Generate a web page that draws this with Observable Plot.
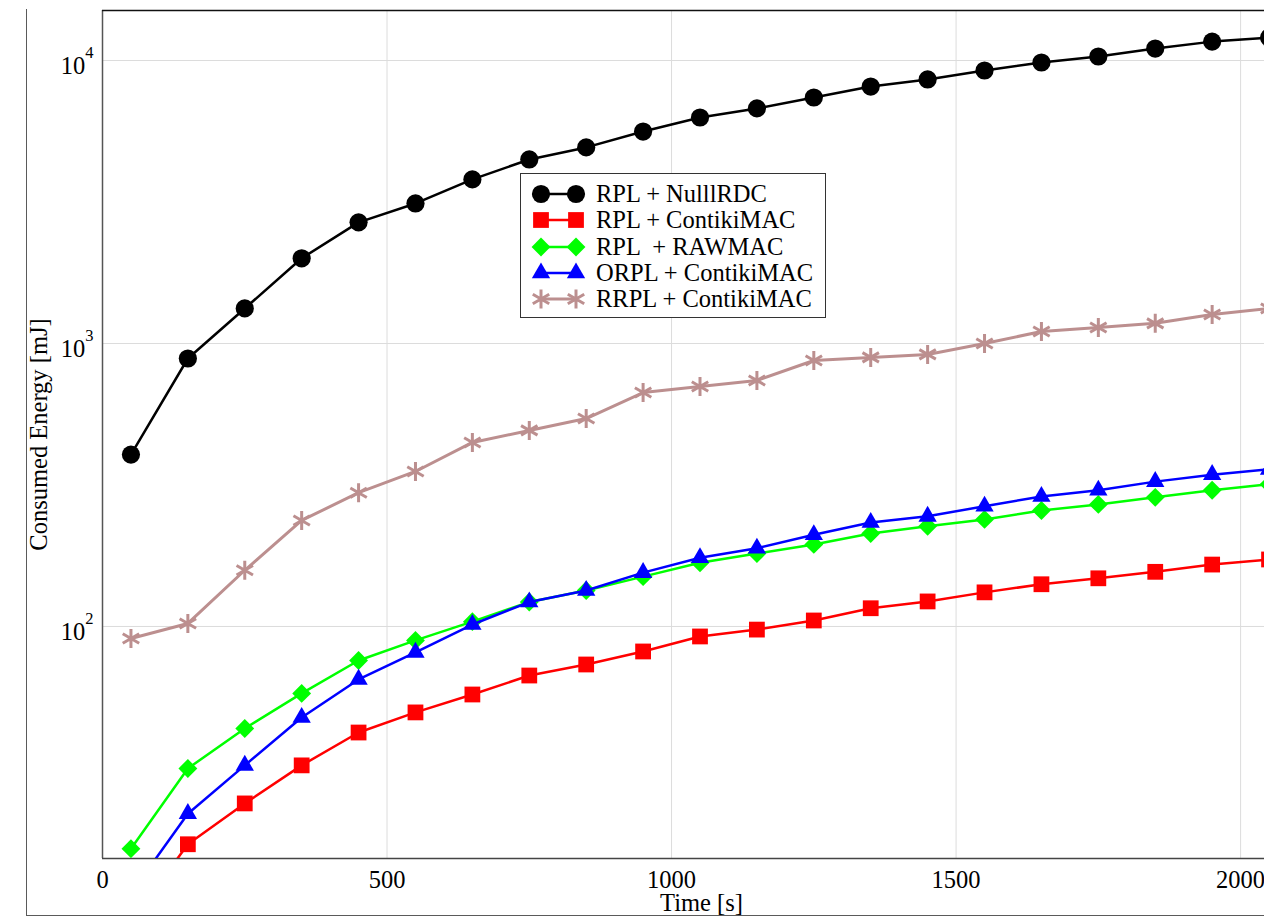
<!DOCTYPE html>
<html><head><meta charset="utf-8">
<script src="https://cdn.jsdelivr.net/npm/d3@7"></script>
<script src="https://cdn.jsdelivr.net/npm/@observablehq/plot@0.6"></script>
<style>
html,body{margin:0;padding:0;background:#fff;overflow:hidden}
#wrap{position:relative;width:1264px;height:919px}
#outer{position:absolute;left:26px;top:9px;width:1250px;height:906px;border-left:1.5px solid #5a5a5a;border-bottom:1.5px solid #5a5a5a}
#chart{position:absolute;left:0;top:0}
#legend{position:absolute;left:520px;top:173px;width:306px;height:145px;border:1.5px solid #333;background:#fff;box-sizing:border-box;font-family:"Liberation Serif",serif;font-size:24.5px;color:#000}
.row{position:absolute;left:0;height:26px;display:flex;align-items:center;white-space:pre}
.row svg{flex:none}
</style></head><body>
<div id="wrap"><div id="outer"></div><div id="chart"></div><div id="legend"></div></div>
<script>
// ---- data ----
const times = [50,150,250,350,450,550,650,750,850,950,1050,1150,1250,1350,1450,1550,1650,1750,1850,1950,2050];
const rplNullRdc   = [405,885,1330,2000,2680,3125,3800,4470,4930,5610,6290,6770,7400,8090,8570,9220,9840,10330,11020,11660,12050];
const rplContiki   = [9,17,23.7,32.3,42.2,49.7,57.5,67.1,73.4,81.6,92.2,97.5,105,116,122.6,132,141,148,156,165.5,172.5];
const rplRawMac    = [16.4,31.5,43.6,58,75.8,89.3,104,122,134,150,168,181,195,213,226,239,257,270,286,303,318];
const orplContiki  = [11.4,21.8,32.3,47.7,65,81,101.6,122,134,155,175,189,211,233,245,266,288,303,325,344,359];
const rrplContiki  = [90.7,102.5,158,237,297,353,447,493,543,671,705,740,871,893,915,1000,1102,1139,1178,1266,1330];
const seriesNames  = ["RPL + NulllRDC","RPL + ContikiMAC","RPL  + RAWMAC","ORPL + ContikiMAC","RRPL + ContikiMAC"];
const seriesValues = [rplNullRdc, rplContiki, rplRawMac, orplContiki, rrplContiki];
const xTicks = [0,500,1000,1500,2000];
const yTicks = [100,1000,10000];
const xDomain = [0,2042];
const yDomain = [15.14,15020];

// ---- styles ----
const styles = [
  {color:"#000000", symbol:"circle",   r:9.1, sw:2.5, stroke:false},
  {color:"#ff0000", symbol:"square",   r:8.9, sw:2.5, stroke:false},
  {color:"#00ff00", symbol:"diamond2", r:8.5, sw:2.5, stroke:false},
  {color:"#0000ff", symbol:"triangle", r:6.8, sw:2.5, stroke:false},
  {color:"#bc8f8f", symbol:"asterisk", r:9,   sw:3,   stroke:true}
];

const marks = [
  Plot.gridX(xTicks.filter(d=>d>0), {stroke:"#dcdcdc", strokeOpacity:1, strokeWidth:1}),
  Plot.gridY(yTicks, {stroke:"#dcdcdc", strokeOpacity:1, strokeWidth:1}),
  Plot.ruleX([xDomain[0]], {stroke:"#555", strokeWidth:1.5}),
  Plot.ruleY([yDomain[1]], {stroke:"#111", strokeWidth:1.5}),
  Plot.ruleY([yDomain[0]], {stroke:"#444", strokeWidth:1.5})
];
seriesValues.forEach((vals, k) => {
  const st = styles[k];
  const data = times.map((t,i) => ({t, v: vals[i]}));
  marks.push(Plot.line(data, {x:"t", y:"v", stroke:st.color, strokeWidth:st.sw, clip:true}));
  marks.push(Plot.dot(data, st.stroke
    ? {x:"t", y:"v", symbol:st.symbol, r:st.r, stroke:st.color, strokeWidth:3, fill:"none", clip:true}
    : {x:"t", y:"v", symbol:st.symbol, r:st.r, fill:st.color, stroke:"none", clip:true}));
});
marks.push(
  Plot.axisX(xTicks, {tickSize:0, tickPadding:12, label:null, fontSize:24.5, tickFormat: d => String(d)}),
  Plot.axisY(yTicks, {tickSize:0, tickPadding:9, label:null, fontSize:24.5, dy:6, tickFormat: d => String(Math.round(Math.log10(d)))}),
  Plot.text(["Time [s]"], {frameAnchor:"bottom", lineAnchor:"middle", textAnchor:"middle", dy:45, dx:18, fontSize:24.5, fill:"#000"}),
  Plot.text(["Consumed Energy [mJ]"], {frameAnchor:"left", lineAnchor:"middle", textAnchor:"middle", rotate:-90, dx:-63, fontSize:24.5, fill:"#000"})
);

const svg = Plot.plot({
  width:1264, height:919,
  marginLeft:102, marginRight:0, marginTop:10, marginBottom:61,
  style:{fontFamily:"'Liberation Serif', serif", fontSize:"24.5px", background:"transparent", color:"#000"},
  x:{domain:xDomain, axis:null},
  y:{type:"log", domain:yDomain, axis:null},
  marks
});
document.getElementById("chart").appendChild(svg);

// superscript exponents on log tick labels
d3.select(svg).selectAll('g[aria-label="y-axis tick label"] text').each(function(){
  const e = this.textContent;
  this.textContent = "";
  d3.select(this).append("tspan").text("10");
  d3.select(this).append("tspan").attr("dy","-16").attr("font-size","16.5px").text(e);
});

// ---- legend ----
const legend = document.getElementById("legend");
const symMap = {circle:d3.symbolCircle, square:d3.symbolSquare, diamond2:d3.symbolDiamond2, triangle:d3.symbolTriangle, asterisk:d3.symbolAsterisk};
const rowTops = [20,46.3,72.6,98.9,125.2];
seriesNames.forEach((name,k) => {
  const st = styles[k];
  const row = document.createElement("div");
  row.className = "row";
  row.style.top = (rowTops[k]-13) + "px";
  const ns = "http://www.w3.org/2000/svg";
  const s = document.createElementNS(ns,"svg");
  s.setAttribute("width","73"); s.setAttribute("height","26");
  const path = d3.symbol(symMap[st.symbol], Math.PI*st.r*st.r)();
  const sel = d3.select(s);
  sel.append("line").attr("x1",20).attr("x2",55).attr("y1",13).attr("y2",13).attr("stroke",st.color).attr("stroke-width",st.sw);
  [20,55].forEach(cx => {
    const p = sel.append("path").attr("d",path).attr("transform",`translate(${cx},13)`);
    if (st.stroke) p.attr("fill","none").attr("stroke",st.color).attr("stroke-width",3);
    else p.attr("fill",st.color);
  });
  row.appendChild(s);
  const span = document.createElement("span");
  span.textContent = name;
  span.style.marginLeft = "2px";
  row.appendChild(span);
  legend.appendChild(row);
});
</script>
</body></html>
